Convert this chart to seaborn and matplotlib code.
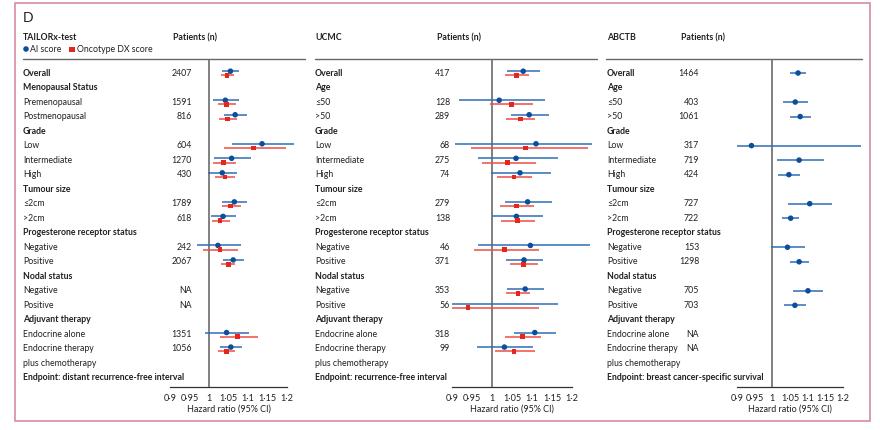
import numpy as np
import matplotlib
matplotlib.use("Agg")
import matplotlib.pyplot as plt
import seaborn as sns
from matplotlib.patches import Rectangle

# ---- datos ----
labels_tailorx = ["Overall", "Menopausal Status", "Premenopausal", "Postmenopausal", "Grade", "Low",
                  "Intermediate", "High", "Tumour size", "≤2cm", ">2cm", "Progesterone receptor status",
                  "Negative", "Positive", "Nodal status", "Negative", "Positive", "Adjuvant therapy",
                  "Endocrine alone", "Endocrine therapy", "plus chemotherapy",
                  "Endpoint: distant recurrence-free interval"]
labels_ucmc = ["Overall", "Age", "≤50", ">50", "Grade", "Low", "Intermediate", "High", "Tumour size",
               "≤2cm", ">2cm", "Progesterone receptor status", "Negative", "Positive", "Nodal status",
               "Negative", "Positive", "Adjuvant therapy", "Endocrine alone", "Endocrine therapy",
               "plus chemotherapy", "Endpoint: recurrence-free interval"]
labels_abctb = labels_ucmc[:-1] + ["Endpoint: breast cancer-specific survival"]
bold_rows = [0, 1, 4, 8, 11, 14, 17, 21]

n_tailorx = ["2407", "", "1591", "816", "", "604", "1270", "430", "", "1789", "618", "", "242", "2067",
             "", "NA", "NA", "", "1351", "1056", "", ""]
n_ucmc = ["417", "", "128", "289", "", "68", "275", "74", "", "279", "138", "", "46", "371",
          "", "353", "56", "", "318", "99", "", ""]
n_abctb = ["1464", "", "403", "1061", "", "317", "719", "424", "", "727", "722", "", "153", "1298",
           "", "705", "703", "", "NA", "NA", "", ""]

# TAILORx
tailorx_rows = [0, 2, 3, 5, 6, 7, 9, 10, 12, 13, 18, 19]
tailorx_ai = [1.055, 1.042, 1.067, 1.136, 1.058, 1.034, 1.065, 1.036, 1.023, 1.062, 1.045, 1.056]
tailorx_ai_lo = [1.033, 1.009, 1.038, 1.060, 1.012, 0.997, 1.034, 1.004, 0.968, 1.035, 0.991, 1.028]
tailorx_ai_hi = [1.078, 1.076, 1.098, 1.218, 1.107, 1.073, 1.097, 1.068, 1.081, 1.089, 1.102, 1.084]
tailorx_dx = [1.046, 1.044, 1.047, 1.115, 1.038, 1.041, 1.056, 1.028, 1.028, 1.049, 1.074, 1.044]
tailorx_dx_lo = [1.031, 1.022, 1.025, 1.039, 1.010, 1.015, 1.033, 1.007, 0.984, 1.030, 1.028, 1.022]
tailorx_dx_hi = [1.063, 1.068, 1.071, 1.197, 1.068, 1.067, 1.081, 1.053, 1.075, 1.067, 1.125, 1.066]

# UCMC
ucmc_rows = [0, 2, 3, 5, 6, 7, 9, 10, 12, 13, 15, 16, 18, 19]
ucmc_ai = [1.078, 1.018, 1.093, 1.110, 1.060, 1.070, 1.089, 1.061, 1.096, 1.080, 1.083, 0.89, 1.107, 1.031]
ucmc_ai_lo = [1.037, 0.917, 1.048, 0.907, 0.965, 0.998, 1.032, 0.999, 0.966, 1.035, 1.038, 0.85, 1.055, 0.963]
ucmc_ai_hi = [1.121, 1.133, 1.142, 1.250, 1.164, 1.147, 1.149, 1.127, 1.244, 1.128, 1.129, 1.165, 1.161, 1.103]
ucmc_dx = [1.062, 1.048, 1.071, 1.084, 1.039, 1.055, 1.062, 1.064, 1.032, 1.079, 1.065, 0.940, 1.076, 1.055]
ucmc_dx_lo = [1.033, 0.996, 1.036, 0.948, 0.974, 1.013, 1.020, 1.022, 0.954, 1.045, 1.036, 0.88, 1.032, 1.008]
ucmc_dx_hi = [1.093, 1.103, 1.108, 1.240, 1.111, 1.100, 1.105, 1.108, 1.118, 1.115, 1.095, 1.118, 1.123, 1.107]

# ABCTB (solo AI score)
abctb_rows = [0, 2, 3, 5, 6, 7, 9, 10, 12, 13, 15, 16]
abctb_ai = [1.073, 1.065, 1.079, 0.941, 1.076, 1.047, 1.106, 1.052, 1.043, 1.076, 1.101, 1.064]
abctb_ai_lo = [1.050, 1.031, 1.049, 0.87, 1.012, 1.016, 1.045, 1.027, 0.996, 1.051, 1.060, 1.034]
abctb_ai_hi = [1.096, 1.100, 1.110, 1.252, 1.147, 1.079, 1.170, 1.076, 1.094, 1.104, 1.145, 1.095]

tick_vals = [0.9, 0.95, 1.0, 1.05, 1.1, 1.15, 1.2]
tick_text = ["0·9", "0·95", "1", "1·05", "1·1", "1·15", "1·2"]

# ---- estilo ----
sns.set_style("white")
plt.rcParams['font.family'] = ['Lato', 'DejaVu Sans']
TXT = "#231f20"
BLUE_PT, BLUE_LN = "#0b4f9c", "#2f6fb4"
RED_PT, RED_LN = "#e4261d", "#ef4d45"
FS = 6.3

W, H = 880, 430
fig = plt.figure(figsize=(W / 100, H / 100), dpi=100)
bg = fig.add_axes([0, 0, 1, 1])
bg.set_xlim(0, W)
bg.set_ylim(H, 0)
bg.axis("off")

# marco rosa
bg.add_patch(Rectangle((15, 3), 855, 418, fill=False, edgecolor="#d98aa6", lw=1.2))
bg.text(23, 18, "D", fontsize=10, color=TXT, va="center")

ROW0, ROWH = 73, 14.52
TOP, BOTTOM = 59, 387


def row_y(i):
    return ROW0 + i * ROWH


def draw_texts(labels, nums, x_lab, x_num, title, x_pat, line_x0, line_x1):
    bg.text(x_lab, 38, title, fontsize=FS, fontweight="bold", color=TXT, va="center")
    bg.text(x_pat, 38, "Patients (n)", fontsize=FS, fontweight="bold", color=TXT, va="center")
    bg.plot([line_x0, line_x1], [TOP, TOP], color="#666666", lw=1.0)
    for i, lab in enumerate(labels):
        bg.text(x_lab, row_y(i), lab, fontsize=FS, color=TXT, va="center",
                fontweight="bold" if i in bold_rows else "normal")
        if nums[i]:
            bg.text(x_num, row_y(i), nums[i], fontsize=FS, color=TXT, va="center", ha="right")


def draw_forest(x0, px_per_unit, series):
    xmin, xmax = 0.9, 1.255
    left = x0 / W
    width = (xmax - xmin) * px_per_unit / W
    ax = fig.add_axes([left, (H - BOTTOM) / H, width, (BOTTOM - TOP) / H])
    ax.patch.set_alpha(0)
    ax.set_xlim(xmin, xmax)
    ax.set_ylim(BOTTOM, TOP)
    ax.axvline(1, color="#6b6b6b", lw=1.2, zorder=1)
    for rows, est, lo, hi, off, lc, pc, mk, s in series:
        y = [row_y(r) + off for r in rows]
        ax.hlines(y, lo, hi, color=lc, lw=1.1, zorder=2)
        sns.scatterplot(x=est, y=y, ax=ax, marker=mk, s=s, color=pc, edgecolor="none",
                        zorder=3, legend=False)
    for sp in ["top", "right", "left"]:
        ax.spines[sp].set_visible(False)
    ax.spines["bottom"].set_bounds(0.9, 1.2)
    ax.spines["bottom"].set_color("#333333")
    ax.spines["bottom"].set_linewidth(0.9)
    ax.set_yticks([])
    ax.set_xticks(tick_vals)
    ax.set_xticklabels(tick_text, fontsize=6.6, color=TXT)
    ax.tick_params(axis="x", direction="in", length=3.5, width=0.9, color="#333333", pad=5)
    ax.set_xlabel("Hazard ratio (95% CI)", fontsize=6.5, color=TXT)
    ax.xaxis.set_label_coords((0.15 / (xmax - xmin)), -0.055)
    ax.set_ylabel("")
    return ax


# panel TAILORx
draw_texts(labels_tailorx, n_tailorx, 23, 192, "TAILORx-test", 173, 23, 305)
draw_forest(170, 390, [
    (tailorx_rows, tailorx_ai, tailorx_ai_lo, tailorx_ai_hi, -1.8, BLUE_LN, BLUE_PT, "o", 16),
    (tailorx_rows, tailorx_dx, tailorx_dx_lo, tailorx_dx_hi, 2.4, RED_LN, RED_PT, "s", 12),
])
# leyenda
bg.scatter([26], [49], s=16, color=BLUE_PT, marker="o", edgecolor="none")
bg.text(29.5, 49, "AI score", fontsize=FS, color=TXT, va="center")
bg.scatter([72], [49.5], s=14, color=RED_PT, marker="s", edgecolor="none")
bg.text(77, 49.5, "Oncotype DX score", fontsize=FS, color=TXT, va="center")

# panel UCMC
draw_texts(labels_ucmc, n_ucmc, 315, 450, "UCMC", 437, 315, 597)
draw_forest(452, 400, [
    (ucmc_rows, ucmc_ai, ucmc_ai_lo, ucmc_ai_hi, -1.8, BLUE_LN, BLUE_PT, "o", 16),
    (ucmc_rows, ucmc_dx, ucmc_dx_lo, ucmc_dx_hi, 2.4, RED_LN, RED_PT, "s", 12),
])

# panel ABCTB
draw_texts(labels_abctb, n_abctb, 607, 699, "ABCTB", 681, 606, 862)
draw_forest(737, 353, [
    (abctb_rows, abctb_ai, abctb_ai_lo, abctb_ai_hi, 0.0, BLUE_LN, BLUE_PT, "o", 16),
])

fig.savefig("out.png", dpi=100)
